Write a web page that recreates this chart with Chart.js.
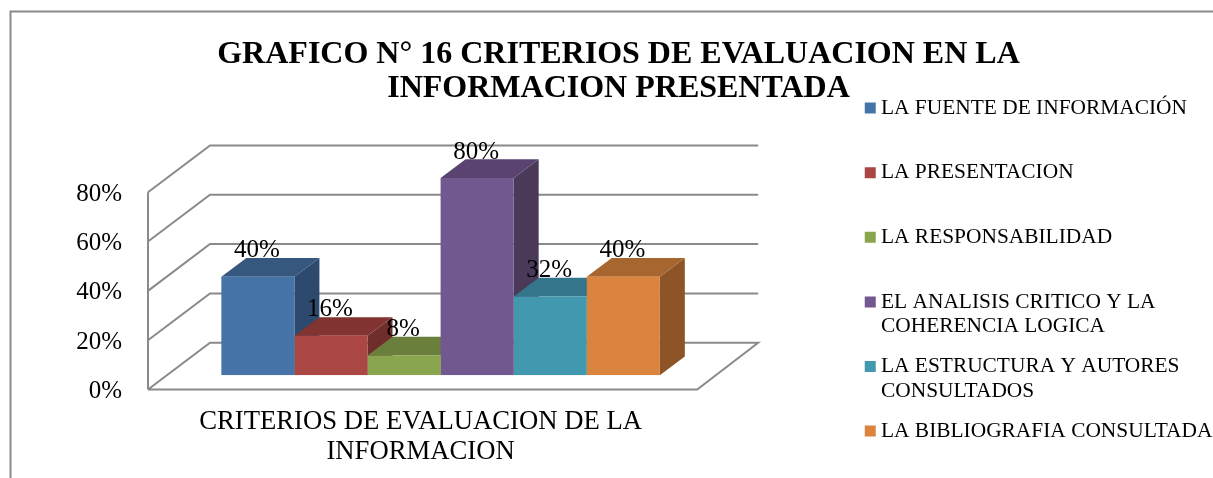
<!DOCTYPE html>
<html>
<head>
<meta charset="utf-8">
<title>Grafico 16</title>
<script src="https://cdn.jsdelivr.net/npm/chart.js@4"></script>
<style>
    html, body { margin: 0; padding: 0; background: #fff; overflow: hidden; }
    canvas { display: block; }
</style>
</head>
<body>
<canvas id="chart" width="1213" height="478"></canvas>
<script>
const categories = [['CRITERIOS DE EVALUACION DE LA', 'INFORMACION']];
const seriesLines = [
    ['LA FUENTE DE INFORMACIÓN', ''],
    ['LA PRESENTACION', ''],
    ['LA RESPONSABILIDAD', ''],
    ['EL ANALISIS CRITICO Y LA', 'COHERENCIA LOGICA'],
    ['LA ESTRUCTURA Y AUTORES', 'CONSULTADOS'],
    ['LA BIBLIOGRAFIA CONSULTADA', '']
];
const seriesValues = [0.40, 0.16, 0.08, 0.80, 0.32, 0.40];
const frontColors = ['#4674a8', '#aa4643', '#89a54e', '#71588f', '#4198af', '#db843d'];
const topColors = ['#36587f', '#823432', '#6a7f3b', '#5a4370', '#33758a', '#a7652f'];
const sideColors = ['#2d4a6e', '#6f2d2b', '#5a6c32', '#4a3959', '#2b6375', '#8d5527'];
const titleLines = ['GRAFICO N° 16 CRITERIOS DE EVALUACION EN LA', 'INFORMACION PRESENTADA'];

const FONT = '"Liberation Serif", serif';
const WALL = '#8a8a8a';
const depth = { x: 25, y: 18.7 };       // bar depth
const front = { x: -18, y: 14.2 };      // front edge of floor, relative to bar plane
const back = { x: 44, y: -32.6 };       // back wall, relative to bar plane
const LEGEND_LEFT = 854.6;

const pct = v => Math.round(v * 100) + '%';

const boxPlugin = {
    id: 'box3d',
    afterLayout(chart) {
        // the layout caps a right legend's width, so put it where it belongs by hand
        chart.legend.left = LEGEND_LEFT;
    },
    beforeDraw(chart) {
        const { ctx } = chart;
        ctx.save();
        ctx.strokeStyle = WALL;
        ctx.lineWidth = 2;
        ctx.beginPath();
        ctx.moveTo(10.5, 478);
        ctx.lineTo(10.5, 11.5);
        ctx.lineTo(1213, 11.5);
        ctx.stroke();
        ctx.restore();
    },
    beforeDatasetsDraw(chart) {
        const { ctx, chartArea, scales } = chart;
        const { left, right } = chartArea;
        ctx.save();

        // walls and floor
        ctx.strokeStyle = WALL;
        ctx.lineWidth = 2;
        scales.y.ticks.forEach(t => {
            const y = scales.y.getPixelForValue(t.value);
            ctx.beginPath();
            ctx.moveTo(left + front.x, y + front.y);
            ctx.lineTo(left + back.x, y + back.y);
            ctx.lineTo(right + back.x - 1, y + back.y);
            if (t.value === 0) {
                ctx.lineTo(right + front.x, y + front.y);
                ctx.lineTo(left + front.x, y + front.y);
            }
            ctx.stroke();
        });
        ctx.beginPath();
        ctx.moveTo(left + front.x, scales.y.getPixelForValue(0) + front.y);
        ctx.lineTo(left + front.x, scales.y.getPixelForValue(0.8) + front.y);
        ctx.stroke();

        // side and top faces, left to right so later bars cover earlier ones
        chart.data.datasets.forEach((ds, i) => {
            const bar = chart.getDatasetMeta(i).data[0];
            const x0 = bar.x - bar.width / 2;
            const x1 = bar.x + bar.width / 2;
            const yt = bar.y;
            const yb = bar.base;
            ctx.fillStyle = sideColors[i];
            ctx.beginPath();
            ctx.moveTo(x1, yt);
            ctx.lineTo(x1 + depth.x, yt - depth.y);
            ctx.lineTo(x1 + depth.x, yb - depth.y);
            ctx.lineTo(x1, yb);
            ctx.closePath();
            ctx.fill();
            ctx.fillStyle = topColors[i];
            ctx.beginPath();
            ctx.moveTo(x0, yt);
            ctx.lineTo(x0 + depth.x, yt - depth.y);
            ctx.lineTo(x1 + depth.x, yt - depth.y);
            ctx.lineTo(x1, yt);
            ctx.closePath();
            ctx.fill();
        });
        ctx.restore();
    },
    afterDatasetsDraw(chart) {
        const { ctx } = chart;
        ctx.save();
        ctx.font = '25px ' + FONT;
        ctx.fillStyle = '#000';
        ctx.textAlign = 'center';
        ctx.textBaseline = 'middle';
        chart.data.datasets.forEach((ds, i) => {
            const bar = chart.getDatasetMeta(i).data[0];
            ctx.fillText(pct(ds.data[0]), bar.x - 1, bar.y - 26);
        });
        ctx.restore();
    }
};

new Chart(document.getElementById('chart'), {
    type: 'bar',
    data: {
        labels: categories,
        datasets: seriesLines.map((lines, i) => ({
            label: lines.join(' ').trim(),
            data: [seriesValues[i]],
            backgroundColor: frontColors[i],
            borderWidth: 0,
            categoryPercentage: 0.7985,
            barPercentage: 1
        }))
    },
    options: {
        responsive: false,
        animation: false,
        layout: { autoPadding: false, padding: { left: 10, right: -14, top: 0, bottom: -7 } },
        plugins: {
            tooltip: { enabled: false },
            title: {
                display: true,
                text: titleLines,
                color: '#000',
                font: { family: FONT, size: 32, weight: 'bold', lineHeight: '34px' },
                padding: { top: 38, bottom: 72 }
            },
            legend: {
                position: 'right',
                align: 'end',
                labels: {
                    color: '#000',
                    font: { family: FONT, size: 21.4, lineHeight: '24.5px' },
                    padding: 15.6,
                    usePointStyle: true,
                    boxWidth: 0.1,
                    boxHeight: 11,
                    generateLabels: () => seriesLines.map((lines, i) => ({
                        text: lines,
                        fillStyle: frontColors[i],
                        strokeStyle: frontColors[i],
                        lineWidth: 0,
                        pointStyle: 'rect',
                        datasetIndex: i
                    }))
                }
            }
        },
        scales: {
            x: {
                grid: { display: false, drawTicks: false },
                border: { display: false },
                ticks: {
                    color: '#000',
                    font: { family: FONT, size: 26.7, lineHeight: '30px' },
                    padding: 32,
                    labelOffset: -20,
                    maxRotation: 0,
                    autoSkip: false
                },
                afterFit(scale) { scale.height = 109.7; }
            },
            y: {
                min: 0,
                max: 0.8,
                grid: { display: false, drawTicks: false },
                border: { display: false },
                ticks: {
                    stepSize: 0.2,
                    color: '#000',
                    font: { family: FONT, size: 25 },
                    padding: 44,
                    labelOffset: 16,
                    callback: v => pct(v)
                },
                afterFit(scale) { scale.width = 156; }
            },
            // empty right-hand axis, keeps the gap between the floor and the legend
            gutter: {
                position: 'right',
                grid: { display: false, drawTicks: false },
                border: { display: false },
                ticks: { display: false },
                afterFit(scale) { scale.width = 309; }
            }
        }
    },
    plugins: [boxPlugin]
});
</script>
</body>
</html>
